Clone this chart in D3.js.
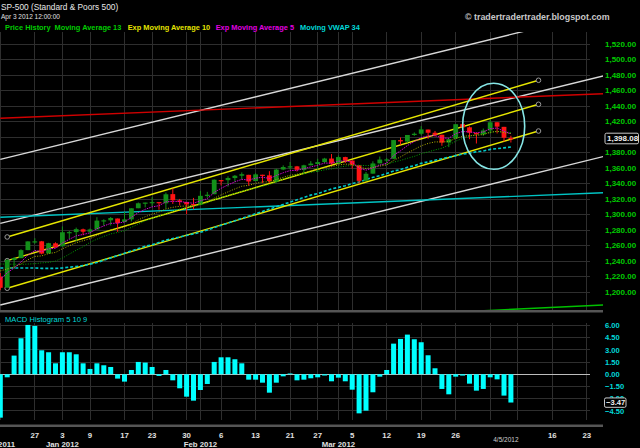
<!DOCTYPE html>
<html>
<head>
<meta charset="utf-8">
<script src="https://cdn.jsdelivr.net/npm/d3@7"></script>
<style>
body { margin: 0; background: #000; }
svg { display: block; font-family: "Liberation Sans", Arial, sans-serif; }
</style>
</head>
<body>
<div id="chart"></div>
<script>
// trading days shown on the time axis (last 15 are future, no candles)
var days = [
  "2011-12-19","2011-12-20","2011-12-21","2011-12-22","2011-12-23","2011-12-27","2011-12-28","2011-12-29","2011-12-30",
  "2012-01-03","2012-01-04","2012-01-05","2012-01-06","2012-01-09","2012-01-10","2012-01-11","2012-01-12","2012-01-13",
  "2012-01-17","2012-01-18","2012-01-19","2012-01-20","2012-01-23","2012-01-24","2012-01-25","2012-01-26","2012-01-27",
  "2012-01-30","2012-01-31","2012-02-01","2012-02-02","2012-02-03","2012-02-06","2012-02-07","2012-02-08","2012-02-09",
  "2012-02-10","2012-02-13","2012-02-14","2012-02-15","2012-02-16","2012-02-17","2012-02-21","2012-02-22","2012-02-23",
  "2012-02-24","2012-02-27","2012-02-28","2012-02-29","2012-03-01","2012-03-02","2012-03-05","2012-03-06","2012-03-07",
  "2012-03-08","2012-03-09","2012-03-12","2012-03-13","2012-03-14","2012-03-15","2012-03-16","2012-03-19","2012-03-20",
  "2012-03-21","2012-03-22","2012-03-23","2012-03-26","2012-03-27","2012-03-28","2012-03-29","2012-03-30","2012-04-02",
  "2012-04-03","2012-04-04","2012-04-05","2012-04-09","2012-04-10","2012-04-11","2012-04-12","2012-04-13","2012-04-16",
  "2012-04-17","2012-04-18","2012-04-19","2012-04-20","2012-04-23","2012-04-24","2012-04-25","2012-04-26","2012-04-27"
];

var openP = [1219.7,1205.7,1241.3,1243.7,1254.0,1265.0,1265.4,1249.8,1262.8,1258.9,1277.0,1277.3,1280.9,1277.8,1280.8,
  1292.0,1292.5,1294.8,1290.2,1293.7,1308.1,1314.5,1315.3,1316.0,1314.4,1326.3,1318.3,1316.2,1313.5,1312.5,1324.2,
  1326.2,1344.4,1344.3,1347.0,1350.0,1351.2,1343.1,1351.3,1350.5,1342.6,1358.1,1361.2,1362.1,1357.5,1363.5,1365.2,
  1367.6,1372.2,1365.9,1374.1,1369.6,1363.6,1343.4,1352.7,1366.0,1370.8,1371.9,1396.0,1394.2,1402.6,1404.2,1409.6,
  1405.5,1402.9,1392.8,1398.0,1416.6,1412.5,1405.4,1403.3,1408.5,1419.0,1413.1,1398.8];
var highP = [1224.6,1242.8,1245.1,1255.2,1265.4,1269.4,1265.9,1263.5,1264.1,1284.6,1278.7,1283.1,1281.8,1281.9,1296.5,
  1293.8,1296.8,1294.8,1303.0,1308.1,1315.5,1315.4,1322.3,1316.0,1328.3,1333.5,1320.1,1316.2,1321.4,1330.5,1329.2,
  1345.3,1344.4,1349.2,1351.0,1354.3,1351.2,1353.4,1351.3,1355.9,1359.0,1363.4,1367.8,1362.7,1364.2,1368.9,1371.9,
  1373.1,1378.0,1376.2,1374.5,1369.6,1363.6,1354.9,1368.7,1374.8,1373.0,1396.1,1399.4,1402.6,1405.9,1414.0,1409.6,
  1407.8,1402.9,1399.2,1416.6,1419.2,1413.7,1405.4,1410.9,1422.4,1419.0,1413.1,1401.6];
var lowP = [1202.4,1205.7,1229.5,1243.7,1254.0,1262.3,1248.6,1249.8,1257.5,1258.9,1268.1,1265.3,1273.3,1274.6,1280.8,
  1285.4,1285.8,1277.6,1290.2,1291.0,1308.1,1309.2,1309.9,1306.1,1307.7,1313.6,1311.7,1300.5,1306.7,1312.5,1321.6,
  1326.2,1337.5,1335.9,1342.0,1344.6,1337.4,1343.1,1340.8,1340.8,1341.2,1357.2,1358.1,1355.5,1352.3,1363.5,1354.9,
  1366.0,1363.8,1365.9,1366.4,1359.1,1340.0,1343.4,1352.7,1366.0,1366.7,1371.9,1390.0,1392.6,1401.5,1402.4,1397.7,
  1400.6,1388.7,1386.9,1398.0,1412.0,1397.2,1391.6,1401.4,1404.5,1404.6,1394.1,1392.9];
var closeP = [1205.4,1241.3,1243.7,1254.0,1265.3,1265.4,1249.6,1263.0,1257.6,1277.1,1277.3,1281.1,1277.8,1280.7,1292.1,
  1292.5,1295.5,1289.1,1293.7,1308.0,1314.5,1315.4,1316.0,1314.7,1326.1,1318.4,1316.3,1313.0,1312.4,1324.1,1325.5,
  1344.9,1344.3,1347.1,1350.0,1352.0,1342.6,1351.8,1350.5,1343.2,1358.0,1361.2,1362.2,1357.7,1363.5,1365.7,1367.6,
  1372.2,1365.7,1374.1,1369.6,1364.3,1343.4,1352.6,1365.9,1370.9,1371.1,1396.0,1394.3,1402.6,1404.2,1409.8,1405.5,
  1402.9,1392.8,1397.1,1416.5,1412.5,1405.5,1403.3,1408.5,1419.0,1413.4,1399.0,1398.08];

var ma13 = [1236.2,1235.9,1235.9,1235.6,1236.1,1236.5,1237.6,1238.2,1239.9,1243.8,1248.9,1253.9,1258.4,1264.1,1268.1,
  1271.8,1275.0,1276.8,1279.0,1283.5,1287.5,1291.9,1294.9,1297.8,1301.2,1304.4,1307.1,1308.7,1310.2,1312.4,1315.2,
  1319.2,1322.0,1324.5,1327.1,1329.9,1332.1,1334.0,1336.5,1338.6,1342.0,1345.8,1348.7,1351.2,1352.6,1354.3,1355.8,
  1357.6,1358.6,1361.0,1362.4,1363.5,1363.5,1363.1,1363.4,1364.1,1365.1,1367.6,1369.8,1372.5,1375.0,1378.4,1380.8,
  1383.3,1385.5,1389.7,1394.6,1398.2,1400.8,1403.3,1404.3,1406.2,1407.0,1406.6,1405.7];
var ema10 = [1227.2,1229.8,1232.3,1236.2,1241.5,1245.9,1246.6,1249.6,1251.0,1255.8,1259.7,1263.6,1266.2,1268.8,1273.0,
  1276.6,1280.0,1281.7,1283.9,1288.2,1293.0,1297.1,1300.5,1303.1,1307.3,1309.3,1310.6,1311.0,1311.3,1313.6,1315.8,
  1321.1,1325.3,1329.2,1333.0,1336.5,1337.6,1340.2,1342.0,1342.2,1345.1,1348.0,1350.6,1351.9,1354.0,1356.1,1358.2,
  1360.8,1361.7,1363.9,1365.0,1364.8,1360.9,1359.4,1360.6,1362.5,1364.0,1369.8,1374.3,1379.4,1383.9,1388.6,1391.7,
  1393.7,1393.6,1394.2,1398.3,1400.9,1401.7,1402.0,1403.2,1406.0,1407.4,1405.8,1404.4];
var ema5 = [1216.4,1224.7,1231.0,1238.7,1247.6,1253.5,1252.2,1255.8,1256.4,1263.3,1268.0,1272.4,1274.2,1276.4,1281.6,
  1285.2,1288.6,1288.8,1290.4,1296.3,1302.4,1306.7,1309.8,1311.4,1316.3,1317.0,1316.8,1315.5,1314.5,1317.7,1320.3,
  1328.5,1333.8,1338.2,1342.1,1345.4,1344.5,1346.9,1348.1,1346.5,1350.3,1353.9,1356.7,1357.0,1359.2,1361.4,1363.5,
  1366.4,1366.2,1368.8,1369.1,1367.5,1359.5,1357.2,1360.1,1363.7,1366.2,1376.1,1382.2,1389.0,1394.1,1399.3,1401.4,
  1401.9,1398.9,1398.3,1404.4,1407.1,1406.6,1405.5,1406.5,1410.7,1411.6,1407.4,1404.3];
var vwap34 = [1231,1231,1231,1231,1231,1231,1230.5,1230.5,1230.5,1231,1232,1233,1234,1236,1238,1241,1244,1247,1250,
  1253,1256,1259,1261,1264,1267,1269,1271,1273,1275,1277,1280,1283,1286,1289,1292,1295,1298,1301,1304,1307,1310,
  1313,1316,1319,1322,1325,1327,1330,1333,1335,1337,1340,1342,1345,1348,1350,1353,1356,1358,1361,1363,1366,1368,
  1370,1372,1374,1376,1378,1379,1381,1382,1384,1385,1386,1387];

var macdHist = [-5.33,-0.37,2.30,4.43,6.07,5.95,2.95,2.71,1.35,2.71,2.71,2.46,1.35,0.66,1.35,1.11,0.90,-0.53,-0.90,
  0.53,1.52,1.44,0.90,-0.20,0.53,-0.74,-1.72,-2.75,-3.24,-1.93,-1.19,1.52,2.09,2.09,1.85,1.35,-0.66,-0.66,-1.03,
  -2.26,-1.03,-0.25,0.10,-0.74,-0.66,-0.49,-0.37,-0.15,-0.86,-0.41,-0.86,-1.89,-4.80,-4.47,-2.21,-0.29,0.53,3.77,
  4.35,4.88,4.31,3.94,2.34,0.74,-1.80,-2.46,-0.29,-0.16,-1.15,-2.01,-1.80,-0.37,-0.62,-2.62,-3.47];

var priceTicks = [1200,1220,1240,1260,1280,1300,1320,1340,1360,1380,1400,1420,1440,1460,1480,1500,1520];
var macdTicks = [6,4.5,3,1.5,0,-1.5,-3,-4.5];

var gridDays = ["2011-12-19","2011-12-27","2012-01-03","2012-01-09","2012-01-17","2012-01-23","2012-01-30","2012-02-01",
  "2012-02-06","2012-02-13","2012-02-21","2012-02-27","2012-03-01","2012-03-05","2012-03-12","2012-03-19","2012-03-26",
  "2012-04-02","2012-04-09","2012-04-16","2012-04-23"];
var tickDays = ["2011-12-27","2012-01-03","2012-01-09","2012-01-17","2012-01-23","2012-01-30","2012-02-06","2012-02-13",
  "2012-02-21","2012-02-27","2012-03-05","2012-03-12","2012-03-19","2012-03-26","2012-04-16","2012-04-23"];
var tickLabels = ["27","3","9","17","23","30","6","13","21","27","5","12","19","26","16","23"];
var monthDays = ["2011-12-19","2012-01-03","2012-02-01","2012-03-01"];
var monthLabels = ["Dec 2011","Jan 2012","Feb 2012","Mar 2012"];

// drawn studies: [start day, start price, end day, end price]
var channelLines = [
  ["2011-12-20",1271.0,"2012-04-12",1473.2],
  ["2011-12-20",1240.4,"2012-04-12",1442.2],
  ["2011-12-20",1204.8,"2012-04-12",1407.7]
];
var whiteLines = [
  ["2011-12-19",1371.2,"2012-04-27",1565.0],
  ["2011-12-19",1288.6,"2012-04-27",1482.4],
  ["2011-12-19",1183.2,"2012-04-27",1378.3]
];
var redLine = ["2011-12-19",1424.1,"2012-04-27",1456.5];
var cyanLine = ["2011-12-19",1296.4,"2012-04-27",1328.7];
var greenLine = ["2011-12-19",1146.1,"2012-04-27",1183.9];
// ellipse annotation: left day, right day, top price, bottom price
var ringDays = ["2012-03-27","2012-04-10"];
var ringPrices = [1469.3,1358.3];

var W = 640, H = 448;
var plotRight = 603, gridRight = 590;
var priceTop = 32, priceBottom = 310;
var macdTop = 315, macdBottom = 424;

var x = d3.scalePoint().domain(days).range([0.3, 0.3 + (days.length - 1) * 6.9]);
var y = d3.scaleLinear().domain([1200, 1520]).range([292, 44]);
var ym = d3.scaleLinear().domain([-6, 6]).range([423.1, 325.5]);

var svg = d3.select("#chart").append("svg")
  .attr("width", W).attr("height", H)
  .style("background", "#000");

var defs = svg.append("defs");
defs.append("clipPath").attr("id", "clipPrice").append("rect")
  .attr("x", 0).attr("y", priceTop).attr("width", plotRight).attr("height", priceBottom - priceTop);
defs.append("clipPath").attr("id", "clipMacd").append("rect")
  .attr("x", 0).attr("y", macdTop).attr("width", plotRight).attr("height", macdBottom - macdTop);

// header
svg.append("text").attr("x", 1).attr("y", 10).attr("fill", "#e8e8e8")
  .style("font-size", "8.3px").text("SP-500 (Standard & Poors 500)");
svg.append("text").attr("x", 1).attr("y", 18.5).attr("fill", "#e0e0e0")
  .style("font-size", "6.5px").text("Apr 3 2012 12:00:00");
svg.append("text").attr("x", 465).attr("y", 19.5).attr("fill", "#c8c8c8")
  .style("font-size", "8.9px").style("font-weight", "bold").text("\u00a9 tradertradertrader.blogspot.com");

var legend = [
  {t: "Price History", c: "#00cc00", x: 5},
  {t: "Moving Average 13", c: "#00cc00", x: 54.5},
  {t: "Exp Moving Average 10", c: "#e4e400", x: 127.7},
  {t: "Exp Moving Average 5", c: "#e000e0", x: 215.7},
  {t: "Moving VWAP 34", c: "#00d8d8", x: 300}
];
svg.append("g").selectAll("text").data(legend).enter().append("text")
  .attr("x", function(d) { return d.x; }).attr("y", 30)
  .attr("fill", function(d) { return d.c; })
  .style("font-size", "7.4px").style("font-weight", "bold")
  .text(function(d) { return d.t; });

// grids
var grid = svg.append("g").attr("stroke", "#2e2e2e").attr("shape-rendering", "crispEdges");
grid.selectAll("line.h").data(priceTicks).enter().append("line")
  .attr("x1", 0).attr("x2", gridRight)
  .attr("y1", function(d) { return y(d); }).attr("y2", function(d) { return y(d); });
grid.selectAll("line.v").data(gridDays).enter().append("line")
  .attr("x1", function(d) { return x(d); }).attr("x2", function(d) { return x(d); })
  .attr("y1", priceTop).attr("y2", priceBottom);
grid.selectAll("line.mh").data(macdTicks.filter(function(d) { return d !== 0; })).enter().append("line")
  .attr("x1", 0).attr("x2", gridRight)
  .attr("y1", function(d) { return ym(d); }).attr("y2", function(d) { return ym(d); });
grid.selectAll("line.mv").data(gridDays).enter().append("line")
  .attr("x1", function(d) { return x(d); }).attr("x2", function(d) { return x(d); })
  .attr("y1", 323).attr("y2", 420);

// panel separators
svg.append("rect").attr("x", 0).attr("y", 310).attr("width", plotRight).attr("height", 2.5).attr("fill", "#555");
svg.append("rect").attr("x", 0).attr("y", 424.5).attr("width", plotRight).attr("height", 2.5).attr("fill", "#555");

var plot = svg.append("g").attr("clip-path", "url(#clipPrice)");
var seg = d3.line().x(function(d) { return x(d[0]); }).y(function(d) { return y(d[1]); });
function toPts(l) { return [[l[0], l[1]], [l[2], l[3]]]; }

plot.selectAll("path.white").data(whiteLines).enter().append("path")
  .attr("d", function(d) { return seg(toPts(d)); })
  .attr("stroke", "#d8d8d8").attr("stroke-width", 1.4).attr("fill", "none");
plot.append("path").attr("d", seg(toPts(redLine)))
  .attr("stroke", "#d00000").attr("stroke-width", 1.4).attr("fill", "none");
plot.append("path").attr("d", seg(toPts(cyanLine)))
  .attr("stroke", "#00c4c4").attr("stroke-width", 1.4).attr("fill", "none");
plot.append("path").attr("d", seg(toPts(greenLine)))
  .attr("stroke", "#00c000").attr("stroke-width", 1.4).attr("fill", "none");
plot.selectAll("path.chan").data(channelLines).enter().append("path")
  .attr("d", function(d) { return seg(toPts(d)); })
  .attr("stroke", "#e6e600").attr("stroke-width", 1.4).attr("fill", "none");

var ends = [];
channelLines.forEach(function(l) { ends.push([l[0], l[1]]); ends.push([l[2], l[3]]); });
plot.selectAll("circle.end").data(ends).enter().append("circle")
  .attr("cx", function(d) { return x(d[0]); }).attr("cy", function(d) { return y(d[1]); })
  .attr("r", 2.3).attr("fill", "#000").attr("stroke", "#999").attr("stroke-width", 1);

// studies
var candleDays = days.slice(0, closeP.length);
var study = d3.line().x(function(d, i) { return x(candleDays[i]); }).y(function(d) { return y(d); });
plot.append("path").attr("d", study(vwap34)).attr("fill", "none")
  .attr("stroke", "#00c8c8").attr("stroke-width", 1.6).attr("stroke-dasharray", "3,2");

// candles
var up = "#13901a", down = "#ff1414";
var candles = candleDays.map(function(d, i) {
  return {day: d, o: openP[i], h: highP[i], l: lowP[i], c: closeP[i]};
});
plot.selectAll("line.wick").data(candles).enter().append("line")
  .attr("x1", function(d) { return x(d.day); }).attr("x2", function(d) { return x(d.day); })
  .attr("y1", function(d) { return y(d.h); }).attr("y2", function(d) { return y(d.l); })
  .attr("stroke", function(d) { return d.c >= d.o ? up : down; }).attr("stroke-width", 1);
plot.selectAll("rect.body").data(candles).enter().append("rect")
  .attr("x", function(d) { return x(d.day) - 2.4; }).attr("width", 4.8)
  .attr("y", function(d) { return y(Math.max(d.o, d.c)); })
  .attr("height", function(d) { return Math.max(1.2, Math.abs(y(d.o) - y(d.c))); })
  .attr("fill", function(d) { return d.c >= d.o ? up : down; });

plot.append("path").attr("d", study(ma13)).attr("fill", "none")
  .attr("stroke", "#00a000").attr("stroke-width", 1).attr("stroke-dasharray", "1,1.5");
plot.append("path").attr("d", study(ema10)).attr("fill", "none")
  .attr("stroke", "#b4b400").attr("stroke-width", 1).attr("stroke-dasharray", "1,1.5");
plot.append("path").attr("d", study(ema5)).attr("fill", "none")
  .attr("stroke", "#d000d0").attr("stroke-width", 1).attr("stroke-dasharray", "1.5,1");

// highlight ring
var rx0 = x(ringDays[0]), rx1 = x(ringDays[1]);
svg.append("ellipse")
  .attr("cx", (rx0 + rx1) / 2).attr("cy", (y(ringPrices[0]) + y(ringPrices[1])) / 2)
  .attr("rx", (rx1 - rx0) / 2).attr("ry", (y(ringPrices[1]) - y(ringPrices[0])) / 2)
  .attr("fill", "none").attr("stroke", "#86e6e6").attr("stroke-width", 1.6);

// price axis (the label under the last-price box is not drawn)
var fmtP = d3.format(",.2f");
var last = closeP.length - 1;
svg.append("g").selectAll("text")
  .data(priceTicks.filter(function(d) { return Math.abs(y(d) - y(closeP[last])) > 9; }))
  .enter().append("text")
  .attr("x", 605).attr("y", function(d) { return y(d); }).attr("dy", "0.35em")
  .attr("fill", "#00cc00").style("font-size", "8px").style("font-weight", "bold")
  .text(function(d) { return fmtP(d); });
svg.append("rect").attr("x", 605).attr("y", y(closeP[last]) - 5.3).attr("width", 33.5).attr("height", 10.6)
  .attr("rx", 1.5).attr("fill", "#000").attr("stroke", "#c8c8c8").attr("stroke-width", 1);
svg.append("text").attr("x", 607).attr("y", y(closeP[last])).attr("dy", "0.35em")
  .attr("fill", "#f0f0f0").style("font-size", "8px").style("font-weight", "bold")
  .text(fmtP(closeP[last]));

// MACD panel
svg.append("text").attr("x", 5).attr("y", 322).attr("fill", "#00d8d8")
  .style("font-size", "7.6px").text("MACD Histogram 5 10 9");
svg.append("line").attr("x1", 0).attr("x2", gridRight).attr("y1", ym(0)).attr("y2", ym(0))
  .attr("stroke", "#bdbdbd").attr("stroke-width", 1).attr("shape-rendering", "crispEdges");
var macd = svg.append("g").attr("clip-path", "url(#clipMacd)");
macd.selectAll("rect").data(macdHist).enter().append("rect")
  .attr("x", function(d, i) { return x(candleDays[i]) - 2.5; }).attr("width", 5)
  .attr("y", function(d) { return ym(Math.max(0, d)); })
  .attr("height", function(d) { return Math.abs(ym(d) - ym(0)); })
  .attr("fill", "#00ffff");

var fmtM = d3.format(".2f");
svg.append("g").selectAll("text").data(macdTicks).enter().append("text")
  .attr("x", 605).attr("y", function(d) { return ym(d); }).attr("dy", "0.35em")
  .attr("fill", "#00d8d8").style("font-size", "7.6px").style("font-weight", "bold")
  .text(function(d) { return fmtM(d); });
var lastM = macdHist[macdHist.length - 1];
svg.append("rect").attr("x", 604.5).attr("y", ym(lastM) - 4.6).attr("width", 21.5).attr("height", 9.4)
  .attr("rx", 1.5).attr("fill", "#000").attr("stroke", "#c8c8c8").attr("stroke-width", 1);
svg.append("text").attr("x", 606).attr("y", ym(lastM)).attr("dy", "0.35em")
  .attr("fill", "#f0f0f0").style("font-size", "7.6px").style("font-weight", "bold")
  .text(fmtM(lastM));

// time axis
svg.append("g").selectAll("text").data(tickDays).enter().append("text")
  .attr("x", function(d) { return x(d); }).attr("y", 438)
  .attr("text-anchor", "middle").attr("fill", "#e0e0e0")
  .style("font-size", "7.8px").style("font-weight", "bold")
  .text(function(d, i) { return tickLabels[i]; });
svg.append("g").selectAll("text").data(monthDays).enter().append("text")
  .attr("x", function(d, i) { return x(d) - (i === 0 ? 2 : 0); }).attr("y", 446.5)
  .attr("text-anchor", "middle").attr("fill", "#e0e0e0")
  .style("font-size", "7.8px").style("font-weight", "bold")
  .text(function(d, i) { return monthLabels[i]; });
var lastDay = candleDays[last].split("-");
svg.append("text").attr("x", x(candleDays[last]) - 5).attr("y", 441.5)
  .attr("text-anchor", "middle").attr("fill", "#cfcfcf").style("font-size", "6.5px")
  .text(+lastDay[1] + "/" + +lastDay[2] + "/" + lastDay[0]);
</script>
</body>
</html>
